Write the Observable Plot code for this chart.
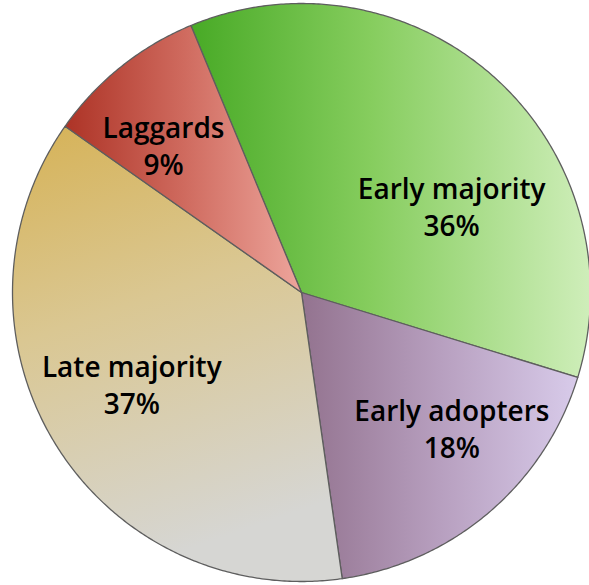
<!DOCTYPE html>
<html>
<head>
<meta charset="utf-8">
<script src="https://cdn.jsdelivr.net/npm/d3@7"></script>
<script src="https://cdn.jsdelivr.net/npm/@observablehq/plot@0.6"></script>
<style>
  html, body { margin: 0; padding: 0; background: #ffffff; }
  #chart { width: 589px; height: 585px; }
</style>
</head>
<body>
<div id="chart"></div>
<script>
// ---- data ----
const categories = ["Early majority", "Early adopters", "Late majority", "Laggards"];
const shares = [36, 18, 37, 9];               // percent
const labels = ["36%", "18%", "37%", "9%"];

// ---- layout (not data) ----
const startDeg = -22.5;                        // first slice starts left of 12 o'clock
const labelPolar = [                           // [angle deg clockwise from top, radius fraction]
  [60, 0.60], [132, 0.70], [241.7, 0.667], [317, 0.70]
];
const gradients = [
  {id: "g0", x2: 1, y2: 0, stops: [[0, "#48aa26"], [0.45, "#86cd5e"], [1, "#cfeeba"]]},
  {id: "g1", x2: 1, y2: 0, stops: [[0, "#93738f"], [0.5, "#b79fbf"], [1, "#d8cbea"]]},
  {id: "g2", x2: 0.25, y2: 1, stops: [[0, "#d6b256"], [0.45, "#dac792"], [1, "#d6d6d3"]]},
  {id: "g3", x2: 1, y2: 0, stops: [[0, "#ad3326"], [0.5, "#cf6a5e"], [1, "#eda59c"]]}
];

const pie = d3.pie().sort(null).value(d => d.value)
  .startAngle(startDeg * Math.PI / 180)
  .endAngle((startDeg + 360) * Math.PI / 180);
const arcs = pie(categories.map((c, i) => ({name: c, value: shares[i], label: labels[i]})));

// polygon points for each slice (from the pie angles)
const slices = arcs.map(a => {
  const pts = [{x: 0, y: 0}];
  const n = Math.max(2, Math.ceil((a.endAngle - a.startAngle) / (Math.PI / 360)));
  for (let k = 0; k <= n; k++) {
    const t = a.startAngle + (a.endAngle - a.startAngle) * k / n;
    pts.push({x: Math.sin(t), y: Math.cos(t)});
  }
  return pts;
});

const textData = arcs.map((a, i) => {
  const ang = labelPolar[i][0] * Math.PI / 180, r = labelPolar[i][1];
  return {x: r * Math.sin(ang), y: r * Math.cos(ang), text: a.data.name + "\n" + a.data.label};
});

const defsMark = () => {
  const defs = d3.create("svg:defs");
  for (const g of gradients) {
    const lg = defs.append("linearGradient").attr("id", g.id)
      .attr("x1", 0).attr("y1", 0).attr("x2", g.x2).attr("y2", g.y2);
    for (const [o, c] of g.stops) lg.append("stop").attr("offset", o).attr("stop-color", c);
  }
  return defs.node();
};

const cx = 301, cy = 292, R = 289;
const chart = Plot.plot({
  width: 589,
  height: 585,
  margin: 0,
  x: {domain: [-1, 1], range: [cx - R, cx + R], axis: null},
  y: {domain: [-1, 1], range: [cy + R, cy - R], axis: null},
  style: {background: "#ffffff"},
  marks: [
    defsMark,
    ...slices.map((pts, i) => Plot.line(pts, {
      x: "x", y: "y", curve: "linear-closed",
      fill: `url(#${gradients[i].id})`,
      stroke: "#5e5e5e", strokeWidth: 1.3, strokeLinejoin: "round"
    })),
    Plot.text(textData, {
      x: "x", y: "y", text: "text",
      fontSize: 28, lineHeight: 1.32,
      fontFamily: "'Open Sans', 'Liberation Sans', sans-serif",
      fontWeight: 600, fill: "#000000"
    })
  ]
});
document.getElementById("chart").appendChild(chart);
</script>
</body>
</html>
